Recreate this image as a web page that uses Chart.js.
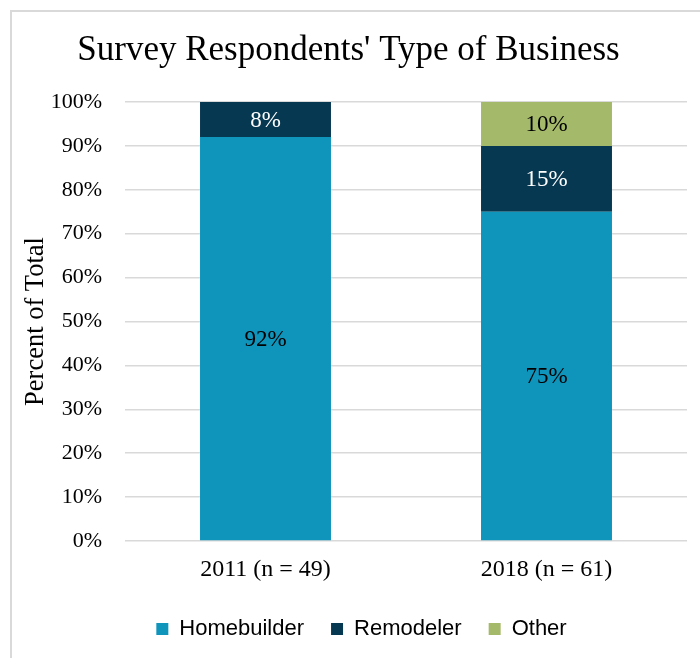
<!DOCTYPE html>
<html>
<head>
<meta charset="utf-8">
<script src="https://cdn.jsdelivr.net/npm/chart.js@4.4.1/dist/chart.umd.min.js"></script>
<style>
  html, body { margin: 0; padding: 0; background: #ffffff; }
  #wrap { position: relative; width: 700px; height: 658px; overflow: hidden; }
  #frame { position: absolute; left: 10px; top: 10px; width: 720px; height: 720px;
           border-left: 2px solid #d9d9d9; border-top: 2px solid #d9d9d9; }
  #chart { position: absolute; left: 0; top: 0; }
</style>
</head>
<body>
<div id="wrap">
  <div id="frame"></div>
  <canvas id="chart" width="700" height="658"></canvas>
</div>
<script>
// Survey years (with sample sizes) and share of respondents by business type, in percent
const categories = ['2011 (n = 49)', '2018 (n = 61)'];
const homebuilder = [92, 75];
const remodeler = [8, 15];
const other = [null, 10];
const yTicks = [0, 10, 20, 30, 40, 50, 60, 70, 80, 90, 100];

const serif = '"Liberation Serif", "Times New Roman", serif';
const sans = '"Liberation Sans", Arial, sans-serif';

// Writes each segment's percentage in the middle of its bar piece
const segmentLabels = {
  id: 'segmentLabels',
  afterDatasetsDraw(chart) {
    const ctx = chart.ctx;
    ctx.save();
    ctx.font = '23px ' + serif;
    ctx.textAlign = 'center';
    ctx.textBaseline = 'middle';
    chart.data.datasets.forEach((ds, i) => {
      const meta = chart.getDatasetMeta(i);
      meta.data.forEach((el, j) => {
        const v = ds.data[j];
        if (v === null || v === undefined || v === 0) return;
        ctx.fillStyle = ds.labelColor;
        ctx.fillText(v + '%', el.x, (el.y + el.base) / 2 + 1);
      });
    });
    ctx.restore();
  }
};

// Nudges the legend row to the right, centring it under the plot area
const legendOffset = {
  id: 'legendOffset',
  afterLayout(chart) {
    const lg = chart.legend;
    if (!lg) return;
    lg.left += 13;
    lg.right += 13;
  }
};

new Chart(document.getElementById('chart'), {
  type: 'bar',
  data: {
    labels: categories,
    datasets: [
      { label: 'Homebuilder', data: homebuilder, backgroundColor: '#0f95bc', labelColor: '#000000' },
      { label: 'Remodeler', data: remodeler, backgroundColor: '#073852', labelColor: '#ffffff' },
      { label: 'Other', data: other, backgroundColor: '#a5b96a', labelColor: '#000000' }
    ]
  },
  plugins: [segmentLabels, legendOffset],
  options: {
    responsive: false,
    animation: false,
    layout: { padding: { left: 10, right: 13, top: 18, bottom: 8 } },
    datasets: {
      bar: { categoryPercentage: 1, barPercentage: 0.466, borderWidth: 0 }
    },
    plugins: {
      title: {
        display: true,
        text: "Survey Respondents' Type of Business",
        color: '#000000',
        font: { family: serif, size: 35, weight: 'normal' },
        padding: { top: 12, bottom: 30 }
      },
      legend: {
        position: 'bottom',
        labels: {
          color: '#000000',
          font: { family: sans, size: 22 },
          boxWidth: 12,
          boxHeight: 12,
          padding: 27
        }
      },
      tooltip: { enabled: false }
    },
    scales: {
      x: {
        stacked: true,
        grid: { display: false },
        border: { display: false },
        afterFit(scale) { scale.height = 50; },
        ticks: { color: '#000000', font: { family: serif, size: 24 }, padding: 6 }
      },
      y: {
        stacked: true,
        min: 0,
        max: 100,
        afterBuildTicks(scale) { scale.ticks = yTicks.map(v => ({ value: v })); },
        afterFit(scale) { scale.width = 115; },
        grid: { color: '#d9d9d9', lineWidth: 1.5, drawTicks: false },
        border: { display: false },
        ticks: {
          color: '#000000',
          font: { family: serif, size: 22 },
          padding: 23,
          callback: v => v + '%'
        },
        title: {
          display: true,
          text: 'Percent of Total',
          color: '#000000',
          font: { family: serif, size: 26.5 },
          padding: { top: 10, bottom: 0 }
        }
      }
    }
  }
});
</script>
</body>
</html>
